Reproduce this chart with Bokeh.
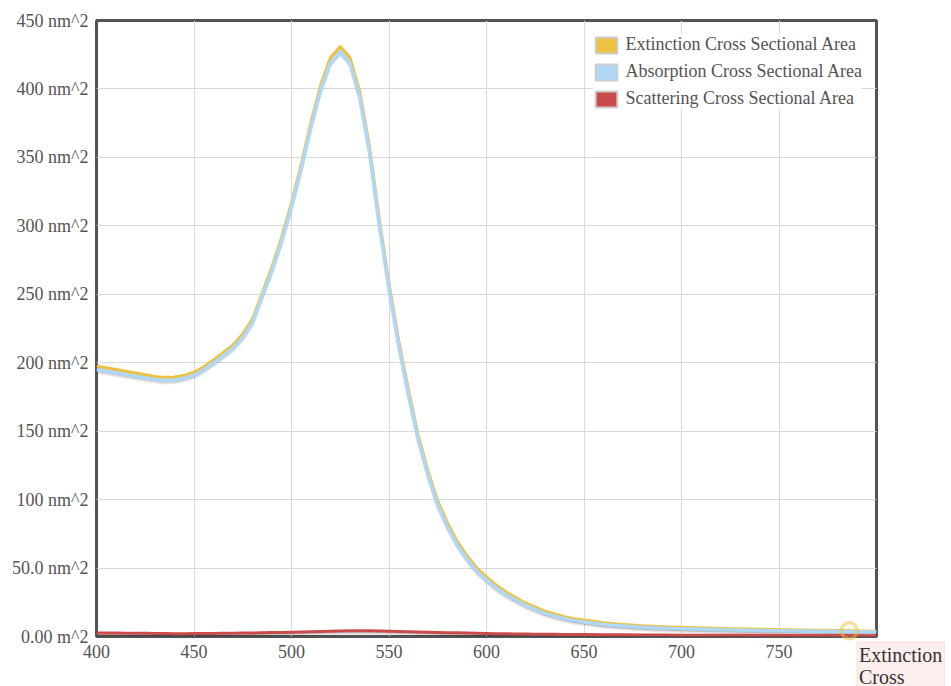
from bokeh.plotting import figure
from bokeh.models import ColumnDataSource, Range1d, FixedTicker, Legend, LegendItem
from bokeh.transform import dodge
from bokeh.core.properties import value
from bokeh.embed import file_html
from bokeh.resources import INLINE

# ---- data ----
wavelength = [400, 405, 410, 415, 420, 425, 430, 435, 440, 445, 450, 455, 460, 465, 470, 475,
              480, 485, 490, 495, 500, 505, 510, 515, 520, 525, 530, 535, 540, 545, 550, 555,
              560, 565, 570, 575, 580, 585, 590, 595, 600, 605, 610, 615, 620, 625, 630, 635,
              640, 645, 650, 660, 670, 680, 690, 700, 720, 740, 760, 780, 800]
extinction = [197.5, 196.3, 195.0, 193.7, 192.5, 191.2, 190.0, 189.3, 189.5, 190.8, 193.0, 197.0,
              202.0, 207.5, 213.0, 221.0, 232.0, 251.0, 270.0, 292.0, 317.0, 345.0, 376.0, 403.0,
              423.0, 431.0, 423.0, 398.0, 358.0, 305.0, 258.0, 216.0, 180.0, 147.0, 121.0, 99.0,
              83.0, 69.5, 59.0, 50.0, 43.5, 37.5, 32.5, 28.5, 24.5, 21.5, 18.5, 16.5,
              14.5, 13.0, 12.0, 10.0, 8.8, 7.8, 7.2, 6.7, 5.9, 5.3, 4.8, 4.3, 3.9]
absorption = [194.9, 193.8, 192.5, 191.3, 190.1, 188.9, 187.8, 187.1, 187.4, 188.7, 190.9, 194.9,
              199.8, 205.2, 210.6, 218.5, 229.4, 248.3, 267.2, 289.0, 313.9, 341.7, 372.5, 399.3,
              419.1, 427.0, 418.8, 393.8, 353.8, 301.0, 254.1, 212.3, 176.5, 143.7, 117.9, 96.0,
              80.2, 66.9, 56.5, 47.7, 41.3, 35.4, 30.5, 26.6, 22.7, 19.8, 16.9, 14.9,
              13.0, 11.6, 10.6, 8.7, 7.6, 6.7, 6.1, 5.7, 5.0, 4.45, 4.05, 3.6, 3.3]
scattering = [2.6, 2.55, 2.5, 2.45, 2.4, 2.3, 2.25, 2.2, 2.1, 2.1, 2.15, 2.15,
              2.2, 2.3, 2.4, 2.5, 2.6, 2.7, 2.85, 3.0, 3.1, 3.3, 3.5, 3.7,
              3.9, 4.05, 4.2, 4.2, 4.2, 4.05, 3.9, 3.7, 3.5, 3.3, 3.15, 3.0,
              2.8, 2.65, 2.5, 2.35, 2.2, 2.1, 2.0, 1.9, 1.8, 1.7, 1.65, 1.6,
              1.5, 1.45, 1.4, 1.3, 1.25, 1.15, 1.1, 1.0, 0.95, 0.85, 0.75, 0.7, 0.6]

series_names = ["Extinction Cross Sectional Area",
                "Absorption Cross Sectional Area",
                "Scattering Cross Sectional Area"]
series_colors = ["#edc240", "#afd8f8", "#cb4b4b"]

x_ticks = [400, 450, 500, 550, 600, 650, 700, 750]
x_tick_labels = ["400", "450", "500", "550", "600", "650", "700", "750"]
y_ticks = [0, 50, 100, 150, 200, 250, 300, 350, 400, 450]
y_tick_labels = ["0.00 m^2", "50.0 nm^2", "100 nm^2", "150 nm^2", "200 nm^2",
                 "250 nm^2", "300 nm^2", "350 nm^2", "400 nm^2", "450 nm^2"]

# hovered point and its tooltip
hover_x = [786]
hover_y = [4.2]
tooltip_x = [790]
tooltip_y = [-4.0]
tooltip_text = ["Extinction\nCross"]

FONT = "Liberation Serif"

source = ColumnDataSource(dict(x=wavelength, ext=extinction, abs=absorption, sca=scattering))

p = figure(width=951, height=686, output_backend="svg", toolbar_location=None,
           x_range=Range1d(400, 800), y_range=Range1d(0, 450),
           min_border_left=96, min_border_right=75, min_border_top=20, min_border_bottom=50)

p.background_fill_color = "white"
p.border_fill_color = "white"
p.outline_line_color = "#545454"
p.outline_line_width = 3

for ax, ticks, labels in ((p.xaxis[0], x_ticks, x_tick_labels), (p.yaxis[0], y_ticks, y_tick_labels)):
    ax.ticker = FixedTicker(ticks=ticks)
    ax.major_label_overrides = {t: l for t, l in zip(ticks, labels)}
    ax.axis_line_color = None
    ax.major_tick_line_color = None
    ax.minor_tick_line_color = None
    ax.major_tick_out = 0
    ax.major_tick_in = 0
    ax.major_label_text_font = FONT
    ax.major_label_text_font_size = "18px"
    ax.major_label_text_color = "#545454"
    ax.major_label_standoff = 8

p.xgrid.ticker = FixedTicker(ticks=x_ticks)
p.ygrid.ticker = FixedTicker(ticks=y_ticks)
p.grid.grid_line_color = "#d9d9d9"
p.grid.grid_line_width = 1

# series with flot-like shadows
widths = [3, 3.5, 3]
for field, color, w in zip(["ext", "abs", "sca"], series_colors, widths):
    p.line(x="x", y=dodge(field, -1.9, range=p.y_range), source=source,
           line_color="black", line_alpha=0.10, line_width=3)
    p.line(x="x", y=dodge(field, -1.2, range=p.y_range), source=source,
           line_color="black", line_alpha=0.15, line_width=1.5)
    p.line(x="x", y=field, source=source, line_color=color, line_width=w,
           line_join="round")

# hover highlight ring (overlay level: not clipped by the frame)
p.scatter(x=hover_x, y=hover_y, size=16, marker="circle", fill_color=None,
          line_color=series_colors[0], line_alpha=0.5, line_width=3.5, level="overlay")

# tooltip box, drawn at overlay level so it can extend beyond the frame
p.text(x=tooltip_x, y=tooltip_y, text=tooltip_text, text_font=value(FONT),
       text_font_size="20px", text_color="#333333", text_align="left",
       text_baseline="top", text_line_height=1.0,
       background_fill_color="#ffeeee", border_line_color="#ffdddd",
       padding=2, level="overlay")

# legend with square swatches
nan = float("nan")
items = []
for name, color in zip(series_names, series_colors):
    r = p.quad(left=[nan], right=[nan], top=[nan], bottom=[nan], fill_color=color,
               line_color="#cccccc", line_width=2)
    items.append(LegendItem(label=name, renderers=[r]))
legend = Legend(items=items, location="top_right")
legend.margin = 14
legend.padding = 8
legend.spacing = 6
legend.glyph_width = 27
legend.glyph_height = 20
legend.label_height = 20
legend.label_standoff = 6
legend.label_text_font = FONT
legend.label_text_font_size = "18px"
legend.label_text_color = "#545454"
legend.background_fill_color = "white"
legend.background_fill_alpha = 0.85
legend.border_line_color = None
p.add_layout(legend, "center")

open("out.html", "w").write(file_html(p, INLINE))
